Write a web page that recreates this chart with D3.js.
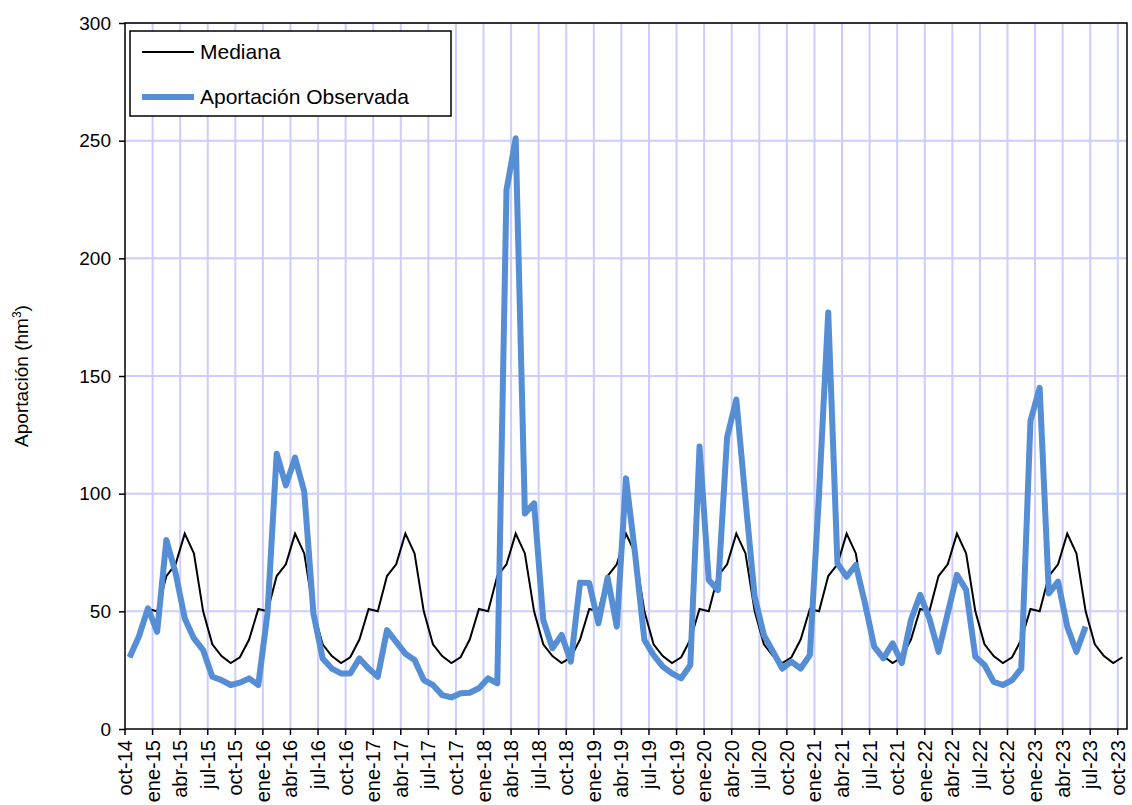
<!DOCTYPE html>
<html><head><meta charset="utf-8">
<script src="https://cdn.jsdelivr.net/npm/d3@7"></script>
<style>body{margin:0;background:#fff}svg{display:block;font-family:"Liberation Sans",Arial,sans-serif}</style>
</head><body>
<script>
// months oct-14 .. oct-23
var monthNames = ['ene','feb','mar','abr','may','jun','jul','ago','sep','oct','nov','dic'];
var months = [];
for (var i = 0; i < 109; i++) {
    var m = (9 + i) % 12, y = 14 + Math.floor((9 + i) / 12);
    months.push(monthNames[m] + '-' + y);
}
var tickLabels = months.filter(function(d, i) { return i % 3 === 0; });

// median per month, oct..sep
var medianCycle = [30.5, 38, 51, 50, 65, 70, 83, 74.6, 50, 36, 31, 28];
var mediana = months.map(function(d, i) { return medianCycle[i % 12]; });

var observada = [
    30.5, 39.2, 51.3, 41.3, 80.3, 66.3, 47, 38.5, 33.5, 22.2, 20.8, 18.7,
    19.7, 21.5, 18.7, 49.1, 117, 103.5, 115.3, 100.8, 49, 30, 25.7, 23.6,
    23.6, 30, 25.7, 22.2, 42, 37, 32, 29.3, 20.8, 18.7, 14.4, 13.4,
    15.2, 15.4, 17.3, 21.5, 19.4, 229, 251, 91.6, 95.9, 46.3, 34.3, 40,
    28.6, 62.2, 62, 44.9, 64.3, 43.5, 106.5, 74, 37.8, 31.4, 26.5, 23.6,
    21.5, 27.2, 120, 63.3, 59, 124, 140, 97.3, 56.2, 39.9, 32.8, 25.7,
    28.6, 25.7, 31.4, 100, 177, 70.4, 64.7, 69.7, 53.4, 35, 30, 36.4,
    28, 46.4, 57, 47, 32.8, 49.2, 65.5, 59.1, 30.7, 27.2, 20, 18.7,
    20.8, 25.7, 131, 145, 57.6, 62.6, 43.5, 32.8, 43.5
];
var yTicks = [0, 50, 100, 150, 200, 250, 300];

var W = 1132, H = 805, L = 125, R = 1127, T = 23, B = 729;
var svg = d3.select('body').append('svg').attr('width', W).attr('height', H);

var x = d3.scaleBand().domain(months).range([L, R]).padding(0);
var y = d3.scaleLinear().domain([0, 300]).range([B, T]);
var cx = function(i) { return x(months[i]) + x.bandwidth() / 2; };

// grid
svg.append('g').selectAll('line').data(yTicks.slice(1)).join('line')
    .attr('x1', L).attr('x2', R).attr('y1', y).attr('y2', y)
    .attr('stroke', '#ccccff').attr('stroke-width', 2);
svg.append('g').selectAll('line').data(tickLabels.slice(1)).join('line')
    .attr('x1', function(d) { return x(d); }).attr('x2', function(d) { return x(d); })
    .attr('y1', T).attr('y2', B)
    .attr('stroke', '#ccccff').attr('stroke-width', 2);

// lines
var line = d3.line().x(function(d, i) { return cx(i); }).y(function(d) { return y(d); });
svg.append('path').datum(mediana).attr('d', line)
    .attr('fill', 'none').attr('stroke', '#000').attr('stroke-width', 2);
svg.append('path').datum(observada).attr('d', line)
    .attr('fill', 'none').attr('stroke', '#558ed5').attr('stroke-width', 6)
    .attr('stroke-linejoin', 'round');

// frame
svg.append('rect').attr('x', L).attr('y', T).attr('width', R - L).attr('height', B - T)
    .attr('fill', 'none').attr('stroke', '#000').attr('stroke-width', 1.5);

// y axis
var ya = svg.append('g').attr('transform', 'translate(' + L + ',0)')
    .call(d3.axisLeft(y).tickValues(yTicks).tickSize(6).tickPadding(8));
ya.select('.domain').remove();
ya.selectAll('line').attr('stroke', '#000').attr('stroke-width', 1.5);
ya.selectAll('text').attr('font-size', 19).attr('fill', '#000').attr('font-family', '"Liberation Sans",Arial,sans-serif');

// x axis
var xa = svg.append('g').attr('transform', 'translate(0,' + B + ')');
xa.selectAll('line').data(tickLabels).join('line')
    .attr('x1', function(d) { return x(d); }).attr('x2', function(d) { return x(d); })
    .attr('y1', 0).attr('y2', 6).attr('stroke', '#000').attr('stroke-width', 1.5);
xa.selectAll('text').data(tickLabels).join('text')
    .attr('transform', function(d) { return 'translate(' + (x(d) + 7) + ',11) rotate(-90)'; })
    .attr('text-anchor', 'end').attr('font-size', 20).text(function(d) { return d; });

// y label
svg.append('text').attr('transform', 'translate(28,' + ((T + B) / 2) + ') rotate(-90)')
    .attr('text-anchor', 'middle').attr('font-size', 19)
    .html('Aportación (hm<tspan baseline-shift="super" font-size="12">3</tspan>)');

// legend
var lg = svg.append('g');
lg.append('rect').attr('x', 130).attr('y', 31).attr('width', 321).attr('height', 85)
    .attr('fill', '#fff').attr('stroke', '#000').attr('stroke-width', 1.5);
lg.append('line').attr('x1', 142).attr('x2', 194).attr('y1', 52).attr('y2', 52)
    .attr('stroke', '#000').attr('stroke-width', 2);
lg.append('text').attr('x', 200).attr('y', 59).attr('font-size', 21).text('Mediana');
lg.append('line').attr('x1', 142).attr('x2', 194).attr('y1', 97).attr('y2', 97)
    .attr('stroke', '#558ed5').attr('stroke-width', 6);
lg.append('text').attr('x', 200).attr('y', 104).attr('font-size', 21).text('Aportación Observada');
</script>
</body></html>
